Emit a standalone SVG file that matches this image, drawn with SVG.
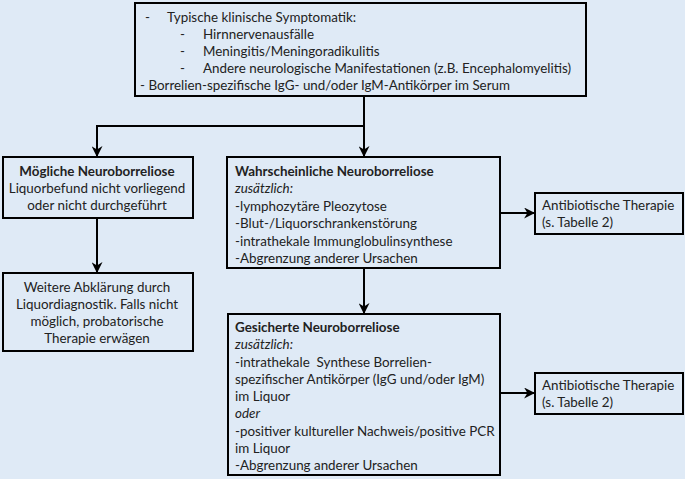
<svg xmlns="http://www.w3.org/2000/svg" width="685" height="479" viewBox="0 0 685 479">
<style>
.bg{fill:#dfeaf6}
.box{fill:#dfeaf6;stroke:#000;stroke-width:2}
text{font-family:Lato,"Open Sans",sans-serif;font-size:13.4px;fill:#222}
.b{font-weight:bold}
.i{font-style:italic}
.c{text-anchor:middle}
.ln{fill:none;stroke:#000;stroke-width:2}
</style>
<defs>
<marker id="ah" viewBox="0 0 10 10" refX="9" refY="5" markerWidth="5.5" markerHeight="5.5" orient="auto" markerUnits="strokeWidth">
<path d="M0,0 L10,5 L0,10 L3,5 z" fill="#000"/>
</marker>
</defs>
<rect class="bg" x="0" y="0" width="685" height="479"/>
<g id="connectors">
<path class="ln" d="M364,96 V126 H97 V156" marker-end="url(#ah)"/>
<path class="ln" d="M364,126 V156" marker-end="url(#ah)"/>
<path class="ln" d="M97,218 V272" marker-end="url(#ah)"/>
<path class="ln" d="M364,268 V313" marker-end="url(#ah)"/>
<path class="ln" d="M500,213 H534" marker-end="url(#ah)"/>
<path class="ln" d="M500,393 H534" marker-end="url(#ah)"/>
</g>
<g id="kriterien">
<rect class="box" x="135" y="3" width="451" height="93"/>
<text x="145" y="22">-</text><text x="167" y="22">Typische klinische Symptomatik:</text>
<text x="180" y="39">-</text><text x="203" y="39">Hirnnervenausfälle</text>
<text x="180" y="56">-</text><text x="203" y="56">Meningitis/Meningoradikulitis</text>
<text x="180" y="73">-</text><text x="203" y="73" textLength="368" lengthAdjust="spacingAndGlyphs">Andere neurologische Manifestationen (z.B. Encephalomyelitis)</text>
<text x="140" y="90" textLength="370" lengthAdjust="spacingAndGlyphs">- Borrelien-spezifische IgG- und/oder IgM-Antikörper im Serum</text>
</g>
<g id="moegliche">
<rect class="box" x="3" y="157" width="190" height="61"/>
<text class="c b" x="97" y="176">Mögliche Neuroborreliose</text>
<text class="c" x="97" y="193">Liquorbefund nicht vorliegend</text>
<text class="c" x="97" y="210">oder nicht durchgeführt</text>
</g>
<g id="weitere">
<rect class="box" x="3" y="273" width="190" height="78"/>
<text class="c" x="97" y="292">Weitere Abklärung durch</text>
<text class="c" x="97" y="309">Liquordiagnostik. Falls nicht</text>
<text class="c" x="97" y="326">möglich, probatorische</text>
<text class="c" x="97" y="343">Therapie erwägen</text>
</g>
<g id="wahrscheinliche">
<rect class="box" x="227" y="157" width="273" height="111"/>
<text class="b" x="235" y="176">Wahrscheinliche Neuroborreliose</text>
<text class="i" x="235" y="193">zusätzlich:</text>
<text x="235" y="211">-lymphozytäre Pleozytose</text>
<text x="235" y="228">-Blut-/Liquorschrankenstörung</text>
<text x="235" y="246">-intrathekale Immunglobulinsynthese</text>
<text x="235" y="263">-Abgrenzung anderer Ursachen</text>
</g>
<g id="antibiotisch1">
<rect class="box" x="535" y="193" width="148" height="41"/>
<text x="542" y="210">Antibiotische Therapie</text>
<text x="542" y="227">(s. Tabelle 2)</text>
</g>
<g id="gesicherte">
<rect class="box" x="228" y="314" width="272" height="161"/>
<text class="b" x="235" y="332">Gesicherte Neuroborreliose</text>
<text class="i" x="235" y="349">zusätzlich:</text>
<text x="235" y="367" xml:space="preserve">-intrathekale  Synthese Borrelien-</text>
<text x="235" y="384">spezifischer Antikörper (IgG und/oder IgM)</text>
<text x="235" y="401">im Liquor</text>
<text class="i" x="235" y="418">oder</text>
<text x="235" y="436">-positiver kultureller Nachweis/positive PCR</text>
<text x="235" y="453">im Liquor</text>
<text x="235" y="470">-Abgrenzung anderer Ursachen</text>
</g>
<g id="antibiotisch2">
<rect class="box" x="535" y="373" width="148" height="41"/>
<text x="542" y="390">Antibiotische Therapie</text>
<text x="542" y="407">(s. Tabelle 2)</text>
</g>
</svg>
